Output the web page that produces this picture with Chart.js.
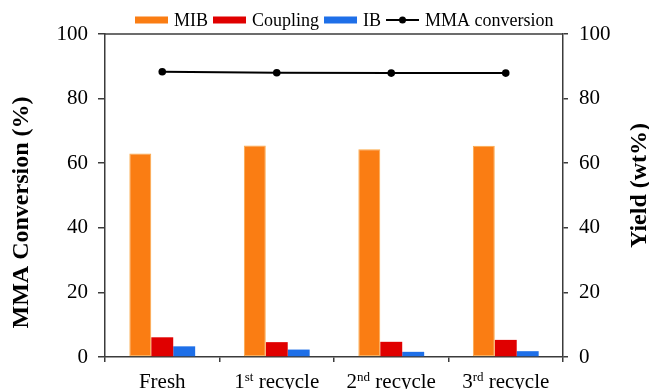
<!DOCTYPE html>
<html>
<head>
<meta charset="utf-8">
<script src="https://cdn.jsdelivr.net/npm/chart.js@4.4.1/dist/chart.umd.min.js"></script>
<style>
  html, body { margin: 0; padding: 0; background: #fff; }
  #wrap { width: 649px; height: 389px; }
</style>
</head>
<body>
<div id="wrap"><canvas id="chart" width="649" height="389"></canvas></div>
<script>
// Catalyst runs: fresh and three recycles
const categories = ['Fresh', '1st recycle', '2nd recycle', '3rd recycle'];

// Product yields (wt%), right axis
const mib = [63.0, 65.5, 64.3, 65.4];
const coupling = [6.1, 4.6, 4.7, 5.3];
const ib = [3.3, 2.3, 1.6, 1.8];

// MMA conversion (%), left axis
const mmaConversion = [88.3, 88.0, 87.9, 87.9];

// Shared tick values for both vertical axes
const yTicks = [0, 20, 40, 60, 80, 100];

const AXIS = '#3b3b3b';
const SERIF = "'Liberation Serif', 'Times New Roman', Times, serif";

// Frame top edge, category labels with ordinal superscripts, axis titles and legend
const decorations = {
  id: 'decorations',
  afterDraw(chart) {
    const { ctx, chartArea: a, scales: { x } } = chart;
    ctx.save();

    // top edge of the box
    ctx.strokeStyle = AXIS;
    ctx.lineWidth = 1.5;
    ctx.beginPath();
    ctx.moveTo(a.left, a.top);
    ctx.lineTo(a.right, a.top);
    ctx.stroke();

    // category labels
    ctx.fillStyle = '#000';
    ctx.textBaseline = 'alphabetic';
    ctx.textAlign = 'left';
    const mainFont = `21px ${SERIF}`;
    const supFont = `13px ${SERIF}`;
    const baseY = a.bottom + 31;
    categories.forEach((label, i) => {
      const m = label.match(/^(\d+)(st|nd|rd|th)(.*)$/);
      const parts = m ? [[m[1], false], [m[2], true], [m[3], false]] : [[label, false]];
      let total = 0;
      parts.forEach(([t, sup]) => { ctx.font = sup ? supFont : mainFont; total += ctx.measureText(t).width; });
      let cx = x.getPixelForValue(i) - total / 2;
      parts.forEach(([t, sup]) => {
        ctx.font = sup ? supFont : mainFont;
        ctx.fillText(t, cx, sup ? baseY - 7 : baseY);
        cx += ctx.measureText(t).width;
      });
    });

    // axis titles, both reading bottom to top
    ctx.font = `bold 24px ${SERIF}`;
    ctx.textAlign = 'center';
    ctx.textBaseline = 'middle';
    const mid = (a.top + a.bottom) / 2;
    ctx.save();
    ctx.translate(22, mid + 17);
    ctx.rotate(-Math.PI / 2);
    ctx.fillText('MMA Conversion (%)', 0, 0);
    ctx.restore();
    ctx.save();
    ctx.translate(640, mid - 10);
    ctx.rotate(-Math.PI / 2);
    ctx.fillText('Yield (wt%)', 0, 0);
    ctx.restore();

    // legend row
    ctx.font = `18px ${SERIF}`;
    ctx.textAlign = 'left';
    ctx.textBaseline = 'middle';
    let lx = 135;
    const ly = 20;
    chart.data.datasets.forEach(ds => {
      if (ds.type === 'line') {
        ctx.strokeStyle = ds.borderColor;
        ctx.lineWidth = 2;
        ctx.beginPath();
        ctx.moveTo(lx, ly);
        ctx.lineTo(lx + 33, ly);
        ctx.stroke();
        ctx.fillStyle = ds.pointBackgroundColor;
        ctx.beginPath();
        ctx.arc(lx + 16.5, ly, 3.5, 0, Math.PI * 2);
        ctx.fill();
      } else {
        ctx.fillStyle = ds.backgroundColor;
        ctx.fillRect(lx, ly - 3.5, 33, 7);
      }
      lx += 33 + 6;
      ctx.fillStyle = '#000';
      ctx.fillText(ds.label, lx, ly + 1);
      lx += ctx.measureText(ds.label).width + 5;
    });

    ctx.restore();
  }
};

const valueAxis = (position, tickLength, padding) => ({
  position,
  min: 0,
  max: 100,
  afterBuildTicks: s => { s.ticks = yTicks.map(v => ({ value: v })); },
  grid: { drawOnChartArea: false, tickLength, color: AXIS, lineWidth: 1.5 },
  border: { color: AXIS, width: 1.5 },
  ticks: { color: '#000', font: { family: SERIF, size: 21 }, padding }
});

new Chart(document.getElementById('chart'), {
  data: {
    labels: categories,
    datasets: [
      { type: 'bar', label: 'MIB', data: mib, backgroundColor: '#FA7D13',
        borderColor: '#FBAA4A', borderWidth: 1, borderSkipped: false, yAxisID: 'y1' },
      { type: 'bar', label: 'Coupling', data: coupling, backgroundColor: '#E00000', yAxisID: 'y1' },
      { type: 'bar', label: 'IB', data: ib, backgroundColor: '#1E6FE8', yAxisID: 'y1' },
      { type: 'line', label: 'MMA conversion', data: mmaConversion, borderColor: '#000',
        backgroundColor: '#000', borderWidth: 2, pointRadius: 3.8, pointBorderWidth: 0,
        pointBackgroundColor: '#000', yAxisID: 'y', order: -1 }
    ]
  },
  options: {
    responsive: false,
    animation: false,
    layout: { padding: { left: 46.5, right: 27.5, top: 34, bottom: 27 } },
    datasets: { bar: { categoryPercentage: 0.575, barPercentage: 1 } },
    plugins: { legend: { display: false }, tooltip: { enabled: false } },
    scales: {
      x: {
        type: 'category',
        offset: true,
        grid: { offset: true, drawOnChartArea: false, tickLength: 5, color: AXIS, lineWidth: 1.5 },
        border: { color: AXIS, width: 1.5 },
        ticks: { display: false }
      },
      y: valueAxis('left', 7, 10),
      y1: valueAxis('right', 5, 11)
    }
  },
  plugins: [decorations]
});
</script>
</body>
</html>
